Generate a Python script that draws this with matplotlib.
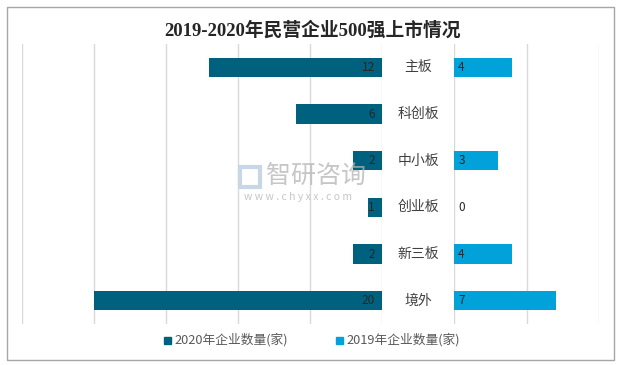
import matplotlib.pyplot as plt
import matplotlib.transforms as mtransforms
import numpy as np

plt.rcParams['font.family'] = ['Noto Sans CJK SC', 'DejaVu Sans']

categories = ['主板', '科创板', '中小板', '创业板', '新三板', '境外']
count_2020 = [12, 6, 2, 1, 2, 20]
count_2019 = [4, None, 3, 0, 4, 7]

dark = '#00617f'
light = '#00a2da'
W, H = 619, 365


def px(x0, y0, x1, y1):
    # pixel box (top-left origin) -> figure fraction rect
    return [x0 / W, (H - y1) / H, (x1 - x0) / W, (y1 - y0) / H]


fig = plt.figure(figsize=(W / 100, H / 100), dpi=100)
fig.patches.append(plt.Rectangle((7 / W, 5 / H), 607 / W, 353 / H, transform=fig.transFigure,
                                 fill=False, edgecolor='#a6a6a6', linewidth=1))

axl = fig.add_axes(px(22, 44, 382, 324))
axr = fig.add_axes(px(454, 44, 599, 324))
y = np.arange(len(categories))

axl.barh(y, count_2020, height=0.42, color=dark, zorder=2)
vals_r = [v if v is not None else 0 for v in count_2019]
axr.barh(y, vals_r, height=0.42, color=light, zorder=2)

axl.set_xlim(25, 0)
axr.set_xlim(0, 10)
for ax in (axl, axr):
    ax.set_ylim(len(categories) - 0.5, -0.5)
    ax.set_xticks(np.arange(0, 26, 5) if ax is axl else np.arange(0, 11, 5))
    ax.grid(axis='x', color='#d9d9d9', linewidth=1, zorder=0)
    ax.tick_params(length=0, labelbottom=False, labelleft=False)
    for s in ax.spines.values():
        s.set_visible(False)
    ax.patch.set_alpha(0)

for i, v in enumerate(count_2020):
    axl.annotate(str(v), (0, i), xytext=(-5, 0), textcoords='offset points',
                 ha='right', va='center', fontsize=8.5, color='#262626', zorder=5)
for i, v in enumerate(count_2019):
    if v is None:
        continue
    axr.annotate(str(v), (0, i), xytext=(3, 0), textcoords='offset points',
                 ha='left', va='center', fontsize=8.5, color='#262626', zorder=5)

trans = mtransforms.blended_transform_factory(fig.transFigure, axl.transData)
for i, c in enumerate(categories):
    axl.text(418 / W, i, c, transform=trans, ha='center', va='center',
             fontsize=10, color='#404040', clip_on=False)

fig.text(312 / W, 1 - 30 / H, '2019-2020年民营企业500强上市情况', ha='center', va='center',
         fontsize=13.5, fontweight='bold', color='#262626',
         family=['Liberation Serif', 'Noto Sans CJK SC'])

# watermark
fig.text(266 / W, 1 - 176 / H, '智研咨询', ha='left', va='center', fontsize=18,
         color='#b3b3b3', alpha=0.75)
fig.text(244 / W, 1 - 197 / H, 'w w w . c h y x x . c o m', ha='left', va='center',
         fontsize=7.5, color='#b3b3b3', alpha=0.75)
fig.patches.append(plt.Rectangle((240 / W, 1 - 187 / H), 20 / W, 20 / H, transform=fig.transFigure,
                                 fill=False, edgecolor='#c9d6e6', linewidth=3))

# legend
fig.patches.append(plt.Rectangle((164 / W, 1 - 344 / H), 7 / W, 7 / H, transform=fig.transFigure,
                                 color=dark))
fig.text(174 / W, 1 - 340 / H, '2020年企业数量(家)', ha='left', va='center', fontsize=9.2,
         color='#595959')
fig.patches.append(plt.Rectangle((336 / W, 1 - 344 / H), 7 / W, 7 / H, transform=fig.transFigure,
                                 color=light))
fig.text(346 / W, 1 - 340 / H, '2019年企业数量(家)', ha='left', va='center', fontsize=9.2,
         color='#595959')

fig.savefig('out.png', dpi=100)
